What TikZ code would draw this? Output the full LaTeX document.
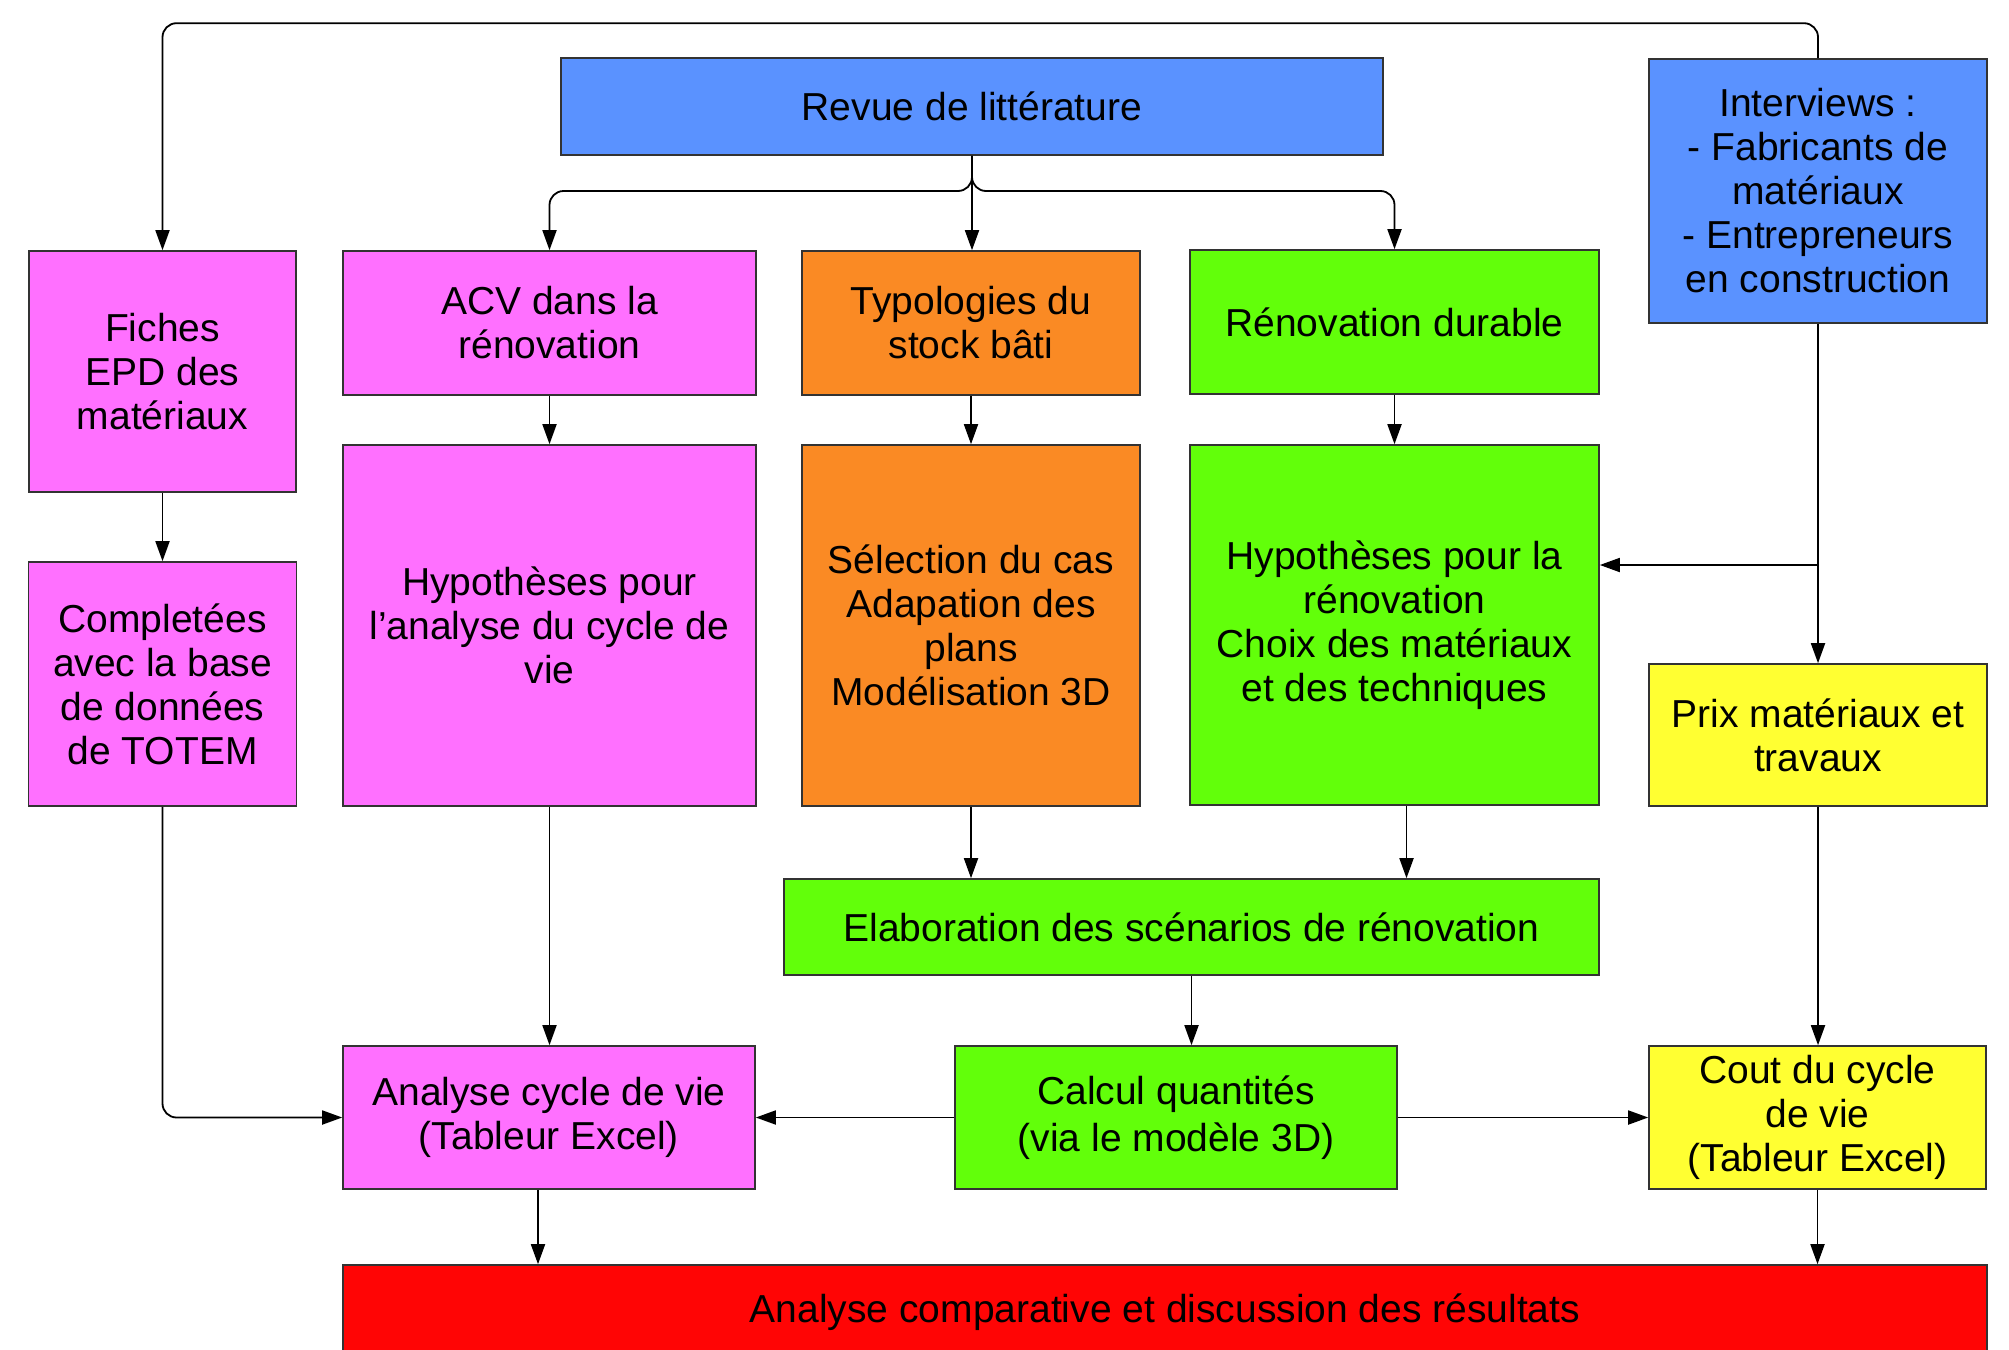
\documentclass[tikz,border=0pt]{standalone}
\usepackage{fontspec}
\setmainfont{Liberation Sans}
\usetikzlibrary{arrows.meta}
\definecolor{cblue}{RGB}{90,146,255}
\definecolor{cmag}{RGB}{255,112,255}
\definecolor{corange}{RGB}{250,138,36}
\definecolor{cgreen}{RGB}{98,255,10}
\definecolor{cyellow}{RGB}{255,255,50}
\definecolor{cred}{RGB}{255,5,5}
\begin{document}
\begin{tikzpicture}[x=1pt,y=-1pt,
  box/.style={draw=black!80, line width=1.6pt, align=center, inner sep=0pt,
    font=\fontsize{39}{44}\selectfont},
  arr/.style={-{Triangle[length=20pt,width=14pt]}, line width=1.8pt},
  rc/.style={rounded corners=14pt}]
\useasboundingbox (0,0) rectangle (2009,1349);

\node[box, fill=cblue, minimum width=822pt, minimum height=97pt] (revue) at (972,106.5) {Revue de littérature};
\node[box, fill=cblue, minimum width=338pt, minimum height=264pt] (interv) at (1818,191) {Interviews :\\- Fabricants de\\matériaux\\- Entrepreneurs\\en construction};
\node[box, fill=cmag, minimum width=267pt, minimum height=241pt] (fiches) at (162.5,371.5) {Fiches\\EPD des\\matériaux};
\node[box, fill=cmag, minimum width=413pt, minimum height=144pt] (acv) at (549.5,323) {ACV dans la\\rénovation};
\node[box, fill=corange, minimum width=338pt, minimum height=144pt] (typo) at (971,323) {Typologies du\\stock bâti};
\node[box, fill=cgreen, minimum width=409pt, minimum height=144pt] (renov) at (1394.5,322) {Rénovation durable};
\node[box, fill=cmag, minimum width=268pt, minimum height=244pt] (compl) at (162.5,684) {Completées\\avec la base\\de données\\de TOTEM};
\node[box, fill=cmag, minimum width=413pt, minimum height=361pt] (hypacv) at (549.5,625.5) {Hypothèses pour\\l{\char"0027}analyse du cycle de\\vie};
\node[box, fill=corange, minimum width=338pt, minimum height=361pt] (selec) at (971,625.5) {Sélection du cas\\Adapation des\\plans\\Modélisation 3D};
\node[box, fill=cgreen, minimum width=409pt, minimum height=360pt] (hyprenov) at (1394.5,625) {Hypothèses pour la\\rénovation\\Choix des matériaux\\et des techniques};
\node[box, fill=cyellow, minimum width=338pt, minimum height=142pt] (prix) at (1818,735) {Prix matériaux et\\travaux};
\node[box, fill=cgreen, minimum width=815pt, minimum height=96pt] (elab) at (1191.5,927) {Elaboration des scénarios de rénovation};
\node[box, fill=cmag, minimum width=412pt, minimum height=143pt] (analyse) at (549,1117.5) {Analyse cycle de vie\\(Tableur Excel)};
\node[box, fill=cgreen, minimum width=442pt, minimum height=143pt, font=\fontsize{39}{47}\selectfont] (calcul) at (1176,1117.5) {Calcul quantités\\(via le modèle 3D)};
\node[box, fill=cyellow, minimum width=337pt, minimum height=143pt] (cout) at (1817.5,1117.5) {Cout du cycle\\de vie\\(Tableur Excel)};
\node[box, fill=cred, minimum width=1644pt, minimum height=94pt] (comp) at (1165,1312) {Analyse comparative et discussion des résultats};

% top loop
\draw[arr, rc] (interv.north) -- ++(0,-35) -| (fiches.north);
% revue branches
\coordinate (br) at (972,191);
\draw[arr] (revue.south) -- (revue.south |- typo.north);
\draw[arr, rc] (revue.south) -- (br) -| (acv.north);
\draw[arr, rc] (revue.south) -- (br) -| (renov.north);
% verticals
\draw[arr] (acv.south) -- (hypacv.north);
\draw[arr] (typo.south) -- (selec.north);
\draw[arr] (renov.south) -- (hyprenov.north);
\draw[arr] (fiches.south) -- (compl.north);
\draw[arr] (interv.south) -- (prix.north);
\coordinate (j) at (1818,565);
\draw[arr] (j) -- (j -| hyprenov.east);
\draw[arr] (selec.south) -- (selec.south |- elab.north);
\draw[arr] ([xshift=12pt]hyprenov.south) -- ([xshift=12pt]hyprenov.south |- elab.north);
\draw[arr] (elab.south) -- (elab.south |- calcul.north);
\draw[arr] (hypacv.south) -- (hypacv.south |- analyse.north);
\draw[arr, rc] (compl.south) |- (analyse.west);
\draw[arr] (calcul.west) -- (analyse.east);
\draw[arr] (calcul.east) -- (cout.west);
\draw[arr] (prix.south) -- (prix.south |- cout.north);
\draw[arr] ([xshift=-11pt]analyse.south) -- ([xshift=-11pt]analyse.south |- comp.north);
\draw[arr] (cout.south) -- (cout.south |- comp.north);
\end{tikzpicture}
\end{document}
